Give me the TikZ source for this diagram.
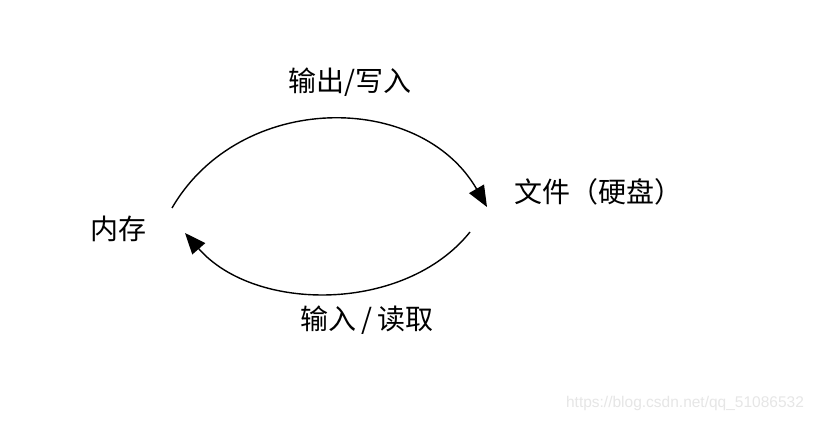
\documentclass[tikz,border=0pt]{standalone}
\usepackage{fontspec}
\setmainfont{Liberation Sans}
\newfontfamily\cjk{Noto Sans CJK SC}
\usetikzlibrary{arrows.meta}
\definecolor{wm}{RGB}{230,230,230}
\tikzset{
  lbl/.style={font=\cjk\fontsize{28}{32}\selectfont, inner sep=0pt},
  arc/.style={line width=1.4pt, -{Triangle[length=21pt,width=17pt]}},
}
\begin{document}
\begin{tikzpicture}[x=1pt,y=-1pt]
\useasboundingbox[fill=white] (0,0) rectangle (817,422);
\node[lbl] (mem) at (118,229) {内存};
\node[lbl] (file) at (598,192) {文件（硬盘）};
\node[lbl] (out) at (350,82) {输出/写入};
\node[lbl] (in) at (367,320) {输入\,/\,读取};
\coordinate (a1) at (172,208);
\coordinate (a2) at (487,207);
\coordinate (b1) at (470,232);
\coordinate (b2) at (185,233);
\draw[arc] (a1) .. controls (240,91) and (420,91) .. (a2);
\draw[arc] (b1) .. controls (405,313) and (255,313) .. (b2);
\node[font=\fontsize{15.5}{18}\selectfont, text=wm, inner sep=0pt] (wmk) at (685,403) {https://blog.csdn.net/qq\_51086532};
\end{tikzpicture}
\end{document}
